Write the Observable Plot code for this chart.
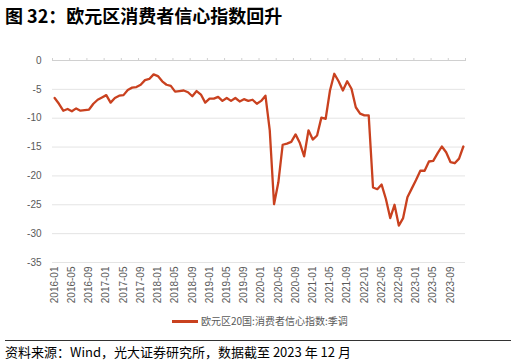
<!DOCTYPE html>
<html>
<head>
<meta charset="utf-8">
<script src="https://cdn.jsdelivr.net/npm/d3@7"></script>
<script src="https://cdn.jsdelivr.net/npm/@observablehq/plot@0.6"></script>
<style>
  html, body { margin: 0; padding: 0; background: #fff; }
  #wrap { position: relative; width: 516px; height: 363px; overflow: hidden; }
  #chart { position: absolute; left: 0; top: 0; }
  .ov { position: absolute; white-space: nowrap; font-family: "Noto Sans CJK SC", "Noto Sans", sans-serif; }
  #title { left: 5px; top: 5px; font-size: 18px; line-height: 20px; font-weight: bold; color: #000; }
  #legend { left: 172px; top: 313px; font-size: 10px; line-height: 15px; color: #595959; }
  #legend .sw { display: inline-block; width: 26px; height: 2.5px; background: #c9411f; vertical-align: middle; margin-right: 3px; position: relative; top: -1px; }
  #rule { left: 5px; top: 340px; width: 506px; height: 1px; background: #333; }
  #caption { left: 5px; top: 344px; font-size: 13px; line-height: 16px; color: #000; }
</style>
</head>
<body>
<div id="wrap">
  <div id="chart"></div>
  <div class="ov" id="title">图 32：欧元区消费者信心指数回升</div>
  <div class="ov" id="legend"><span class="sw"></span>欧元区20国:消费者信心指数:季调</div>
  <div class="ov" id="rule"></div>
  <div class="ov" id="caption">资料来源：Wind，光大证券研究所，数据截至 2023 年 12 月</div>
</div>
<script>
// Euro area (20) consumer confidence, seasonally adjusted, monthly
const years = [2016, 2017, 2018, 2019, 2020, 2021, 2022, 2023];
const v2016 = [-6.5, -7.5, -8.7, -8.4, -8.8, -8.3, -8.7, -8.6, -8.5, -7.5, -6.8, -6.4];
const v2017 = [-6.0, -7.3, -6.5, -6.1, -6.0, -5.1, -4.7, -4.6, -4.2, -3.4, -3.2, -2.4];
const v2018 = [-2.7, -3.6, -4.2, -4.4, -5.4, -5.3, -5.2, -5.5, -6.2, -5.3, -5.9, -7.3];
const v2019 = [-6.6, -6.6, -6.3, -7.0, -6.5, -7.0, -6.5, -7.1, -6.7, -7.0, -6.8, -7.5];
const v2020 = [-7.0, -6.1, -12.1, -24.9, -21.1, -14.6, -14.4, -14.1, -12.8, -14.3, -16.6, -12.1];
const v2021 = [-13.7, -13.0, -9.9, -10.1, -5.2, -2.3, -3.6, -5.2, -3.6, -4.9, -8.1, -9.2];
const v2022 = [-9.5, -9.5, -22.0, -22.3, -21.5, -24.0, -27.3, -25.0, -28.6, -27.3, -23.7, -22.2];
const v2023 = [-20.7, -19.1, -19.1, -17.5, -17.4, -16.1, -14.9, -15.9, -17.6, -17.8, -17.0, -14.9];

const tickLabels = ["2016-01","2016-05","2016-09","2017-01","2017-05","2017-09",
  "2018-01","2018-05","2018-09","2019-01","2019-05","2019-09",
  "2020-01","2020-05","2020-09","2021-01","2021-05","2021-09",
  "2022-01","2022-05","2022-09","2023-01","2023-05","2023-09"];
const yTicks = [0, -5, -10, -15, -20, -25, -30, -35];

const series = [v2016, v2017, v2018, v2019, v2020, v2021, v2022, v2023];
const data = [];
series.forEach((arr, yi) => arr.forEach((v, mi) => {
  const label = years[yi] + "-" + String(mi + 1).padStart(2, "0");
  data.push({label, v});
}));
data.forEach((d, i) => d.i = i);

const labelIdx = tickLabels.map(l => data.find(d => d.label === l).i);
const boundaries = labelIdx.map(i => i - 0.5).concat([data.length - 0.5]);

const chart = Plot.plot({
  width: 516,
  height: 363,
  marginLeft: 52,
  marginRight: 51,
  marginTop: 60,
  marginBottom: 101,
  x: {domain: [-0.5, data.length - 0.5], axis: null, label: null},
  y: {domain: [-35, 0], axis: null, label: null},
  style: {fontFamily: "'Liberation Sans', Arial, sans-serif", fontSize: "10px", color: "#595959", background: "transparent"},
  marks: [
    Plot.ruleY(yTicks.filter(t => t !== 0), {stroke: "#e4e4e4", strokeWidth: 1}),
    Plot.ruleY([0], {stroke: "#d0d0d0", strokeWidth: 1}),
    Plot.axisX({anchor: "top", ticks: boundaries, tickSize: 3, tickFormat: () => "", label: null, stroke: "#d0d0d0", strokeOpacity: 1}),
    Plot.axisX({anchor: "bottom", ticks: labelIdx, tickSize: 0, tickPadding: 4, tickRotate: -90, label: null,
      tickFormat: i => data[i].label, fill: "#595959"}),
    Plot.axisY({anchor: "left", ticks: yTicks, tickSize: 0, tickPadding: 11, label: null, tickFormat: d => String(d), fill: "#595959"}),
    Plot.line(data, {x: "i", y: "v", stroke: "#c9411f", strokeWidth: 2.3, strokeLinejoin: "round"})
  ]
});
document.getElementById("chart").appendChild(chart);
</script>
</body>
</html>
